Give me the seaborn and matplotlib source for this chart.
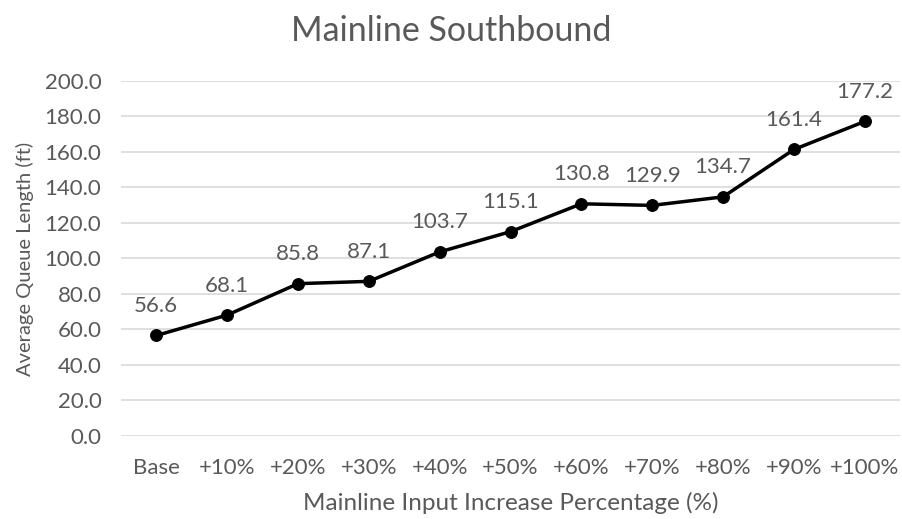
import matplotlib
matplotlib.use("Agg")
import matplotlib.pyplot as plt
import seaborn as sns
import pandas as pd

categories = ["Base", "+10%", "+20%", "+30%", "+40%", "+50%",
              "+60%", "+70%", "+80%", "+90%", "+100%"]
queue_ft = [56.6, 68.1, 85.8, 87.1, 103.7, 115.1,
            130.8, 129.9, 134.7, 161.4, 177.2]
y_ticks = [0, 20, 40, 60, 80, 100, 120, 140, 160, 180, 200]

sns.set_theme(style="white")
plt.rcParams["font.family"] = ["Lato", "DejaVu Sans"]
text_color = "#595959"

df = pd.DataFrame({"pct": categories, "queue": queue_ft})

fig = plt.figure(figsize=(9.02, 5.19), dpi=100)
ax = fig.add_axes([0.134, 0.160, 0.864, 0.684])

sns.lineplot(data=df, x="pct", y="queue", ax=ax, color="black",
             linewidth=2.5, marker="o", markersize=8.5,
             markeredgecolor="black", sort=False)

for i, v in enumerate(queue_ft):
    ax.annotate(f"{v:.1f}", (i, v), xytext=(0, 14), textcoords="offset points",
                ha="center", va="bottom", fontsize=16, color=text_color)

ax.set_xlim(-0.5, len(categories) - 0.5)
ax.set_ylim(0, 200)
ax.set_yticks(y_ticks)
ax.set_yticklabels([f"{t:.1f}" for t in y_ticks])
ax.yaxis.grid(True, color="#d9d9d9", linewidth=1.2)
ax.xaxis.grid(False)
for s in ax.spines.values():
    s.set_visible(False)
ax.tick_params(axis="both", length=0, labelsize=16, labelcolor=text_color)
ax.tick_params(axis="x", pad=16)
ax.tick_params(axis="y", pad=14)

ax.set_xlabel("Mainline Input Increase Percentage (%)", fontsize=17.5,
              color=text_color)
ax.xaxis.set_label_coords(0.5, -0.158)
ax.set_ylabel("Average Queue Length (ft)", fontsize=14.5, color=text_color)
ax.yaxis.set_label_coords(-0.112, 0.5)
fig.suptitle("Mainline Southbound", x=0.5, y=0.972, fontsize=24.5,
             color=text_color)

fig.savefig("out.png", dpi=100)
